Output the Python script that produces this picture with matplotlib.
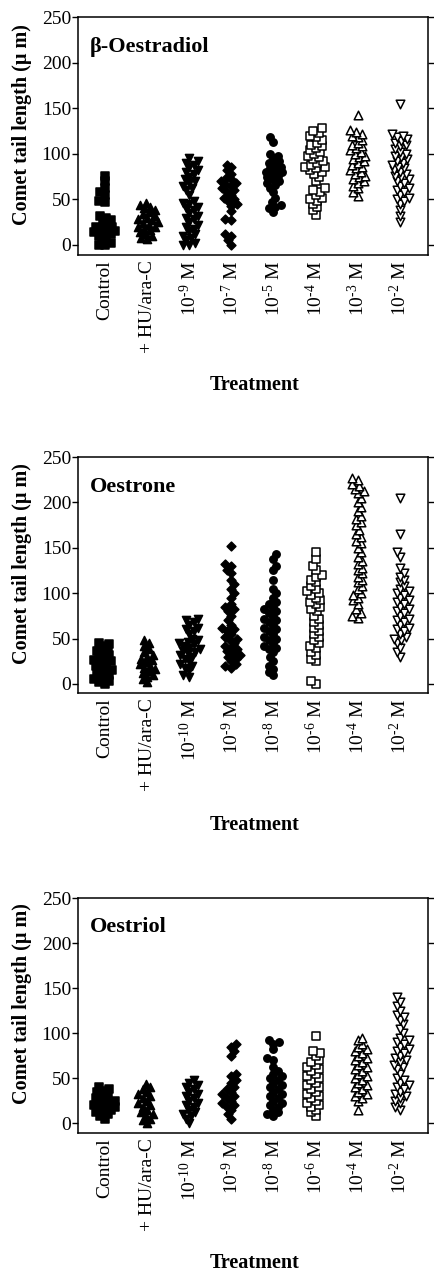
import numpy as np
import matplotlib
matplotlib.use("Agg")
import matplotlib.pyplot as plt

plt.rcParams['font.family'] = ['Liberation Serif', 'DejaVu Serif']
plt.rcParams['mathtext.fontset'] = 'custom'
plt.rcParams['mathtext.rm'] = 'Liberation Serif'
plt.rcParams['mathtext.it'] = 'Liberation Serif:italic'
plt.rcParams['mathtext.bf'] = 'Liberation Serif:bold'

# panel titles
titles = ['\u03b2-Oestradiol', 'Oestrone', 'Oestriol']

# tick labels per panel
labels_oestradiol = ['Control', '+ HU/ara-C', '10$^{\\text{-9}}$ M', '10$^{\\text{-7}}$ M',
                     '10$^{\\text{-5}}$ M', '10$^{\\text{-4}}$ M', '10$^{\\text{-3}}$ M', '10$^{\\text{-2}}$ M']
labels_oestrone = ['Control', '+ HU/ara-C', '10$^{\\text{-10}}$ M', '10$^{\\text{-9}}$ M',
                   '10$^{\\text{-8}}$ M', '10$^{\\text{-6}}$ M', '10$^{\\text{-4}}$ M', '10$^{\\text{-2}}$ M']
labels_oestriol = ['Control', '+ HU/ara-C', '10$^{\\text{-10}}$ M', '10$^{\\text{-9}}$ M',
                   '10$^{\\text{-8}}$ M', '10$^{\\text{-6}}$ M', '10$^{\\text{-4}}$ M', '10$^{\\text{-2}}$ M']

# comet tail lengths (um)
oestradiol = [
    [0, 0, 2, 5, 8, 10, 12, 13, 14, 15, 15, 16, 18, 20, 20, 22, 25, 27, 30, 32, 47, 48, 55, 58, 62, 70, 76],
    [6, 8, 10, 12, 14, 16, 18, 20, 20, 22, 24, 25, 27, 28, 30, 32, 34, 36, 38, 40, 42, 44, 46],
    [0, 0, 2, 5, 8, 10, 12, 15, 18, 20, 22, 25, 28, 30, 32, 35, 38, 40, 42, 45, 46, 48,
     55, 60, 62, 65, 68, 70, 72, 75, 78, 80, 82, 85, 88, 90, 92, 95],
    [0, 5, 10, 12, 27, 29, 37, 43, 45, 48, 50, 52, 55, 58, 60, 62, 65, 67, 68, 70, 72, 75, 78, 82, 85, 88],
    [36, 40, 42, 44, 47, 52, 58, 63, 66, 68, 70, 72, 74, 76, 78, 80, 80, 82, 84, 86, 88, 90, 92, 95, 98, 100, 113, 118],
    [33, 38, 42, 45, 48, 50, 52, 55, 58, 60, 62, 70, 75, 78, 80, 82, 84, 85, 86, 88, 90, 92, 94, 96, 98,
     100, 102, 104, 106, 108, 110, 112, 115, 118, 120, 123, 125, 128],
    [54, 58, 62, 65, 68, 70, 72, 74, 76, 78, 80, 82, 84, 86, 88, 90, 92, 94, 96, 98, 100, 102, 104, 106,
     108, 110, 112, 115, 118, 120, 122, 124, 126, 142],
    [25, 32, 38, 45, 48, 50, 52, 55, 58, 60, 62, 65, 68, 70, 72, 74, 76, 78, 80, 82, 84, 86, 88, 90, 92,
     94, 96, 98, 100, 102, 105, 108, 110, 112, 114, 116, 118, 120, 122, 155],
]
oestrone = [
    [0, 2, 3, 5, 6, 8, 10, 12, 14, 15, 16, 18, 20, 22, 24, 25, 26, 28, 30, 32, 34, 36, 38, 42, 44, 45],
    [2, 5, 8, 10, 12, 14, 16, 18, 20, 22, 24, 26, 28, 30, 32, 35, 38, 42, 45, 48],
    [8, 10, 15, 18, 20, 22, 25, 28, 30, 32, 34, 35, 36, 38, 40, 42, 44, 45, 46, 48, 50, 55, 58, 60, 62, 65, 68, 70, 72],
    [18, 20, 22, 25, 28, 30, 32, 34, 36, 38, 40, 42, 45, 48, 50, 52, 55, 58, 60, 62, 65, 70, 75, 80, 82,
     85, 88, 95, 100, 105, 110, 115, 122, 125, 130, 132, 152],
    [10, 13, 16, 20, 25, 30, 35, 38, 40, 42, 45, 48, 50, 52, 55, 58, 60, 62, 65, 68, 70, 72, 75, 78, 80,
     82, 85, 88, 90, 95, 100, 105, 115, 125, 130, 138, 143],
    [0, 3, 25, 28, 32, 35, 40, 42, 45, 48, 52, 55, 58, 62, 65, 68, 72, 75, 80, 82, 85, 88, 90, 92, 95,
     98, 100, 102, 105, 108, 112, 115, 118, 120, 125, 130, 138, 145],
    [73, 75, 78, 82, 88, 92, 95, 98, 100, 105, 108, 112, 115, 118, 122, 125, 128, 132, 135, 140, 145, 150,
     155, 158, 162, 165, 170, 175, 178, 182, 185, 190, 195, 200, 205, 210, 212, 215, 218, 220, 225, 227],
    [30, 35, 40, 45, 48, 50, 52, 55, 58, 60, 62, 65, 68, 70, 72, 75, 78, 80, 82, 85, 88, 90, 92, 95, 98,
     100, 102, 105, 108, 112, 115, 118, 122, 128, 140, 145, 165, 205],
]
oestriol = [
    [5, 8, 10, 12, 14, 15, 16, 18, 20, 20, 22, 24, 25, 26, 28, 30, 32, 34, 36, 38, 40],
    [0, 3, 5, 8, 10, 12, 15, 18, 20, 22, 25, 28, 30, 32, 35, 38, 40, 43],
    [0, 5, 8, 10, 12, 15, 18, 20, 22, 25, 28, 30, 32, 35, 38, 40, 42, 45, 48],
    [5, 10, 15, 18, 20, 22, 25, 28, 30, 32, 35, 38, 40, 45, 48, 52, 55, 75, 80, 85, 88],
    [8, 10, 12, 15, 18, 20, 22, 25, 28, 30, 32, 35, 38, 40, 42, 45, 48, 50, 52, 55, 58, 62, 70, 72, 82, 88, 90, 92],
    [8, 12, 15, 18, 20, 22, 25, 28, 30, 32, 35, 38, 40, 42, 45, 48, 50, 52, 55, 58, 60, 62, 65, 68, 70,
     75, 78, 80, 97],
    [15, 25, 28, 30, 32, 35, 38, 40, 42, 45, 48, 50, 52, 55, 58, 60, 62, 65, 68, 70, 72, 75, 78, 80, 82,
     85, 88, 92, 95],
    [15, 18, 22, 25, 28, 30, 32, 35, 38, 40, 42, 45, 48, 50, 55, 60, 62, 65, 68, 70, 72, 75, 78, 80, 82,
     85, 88, 90, 92, 95, 100, 105, 110, 115, 118, 120, 125, 130, 135, 140],
]

# marker, filled?, size
styles = [('s', True, 26), ('^', True, 34), ('v', True, 34), ('D', True, 20),
          ('o', True, 28), ('s', False, 30), ('^', False, 38), ('v', False, 38)]

# pixel geometry of the three frames (top, bottom) in a 435x1275 image
frames = [(17, 255), (457, 693), (898, 1133)]
ybottoms = [-11, -10, -11]
treat_y = [385, 825, 1263]

W, H = 435, 1275
fig = plt.figure(figsize=(W / 100, H / 100), dpi=100)


def swarm_offsets(ax, xc, vals, d=5.0, max_w=11.0, step=1.5):
    # simple beeswarm in pixel space, capped width
    tr = ax.transData
    pts = tr.transform(np.column_stack([np.full(len(vals), xc), vals]))
    ys = pts[:, 1]
    ppu = tr.transform((1, 0))[0] - tr.transform((0, 0))[0]
    order = np.argsort(ys, kind='stable')
    placed = []
    offs = np.zeros(len(vals))
    flip = 1
    n = int(max_w / step)
    for i in order:
        y = ys[i]
        cands = [0.0]
        for k in range(1, n + 1):
            cands += [flip * k * step, -flip * k * step]
        flip = -flip
        best, best_d = 0.0, -1
        for c in cands:
            md = min([np.hypot(c - px, y - py) for px, py in placed] or [99])
            if md >= d:
                best = c
                break
            if md > best_d:
                best, best_d = c, md
        placed.append((best, y))
        offs[i] = best / ppu
    return offs


panels = [oestradiol, oestrone, oestriol]
tick_sets = [labels_oestradiol, labels_oestrone, labels_oestriol]

for p in range(3):
    top, bot = frames[p]
    ax = fig.add_axes([78 / W, 1 - bot / H, 350 / W, (bot - top) / H])
    ax.set_xlim(0.36, 8.67)
    ax.set_ylim(ybottoms[p], 250)
    xs = np.arange(1, 9)
    for g, vals in enumerate(panels[p]):
        vals = np.array(vals, dtype=float)
        off = swarm_offsets(ax, xs[g], vals)
        m, filled, s = styles[g]
        ax.scatter(xs[g] + off, vals, marker=m, s=s,
                   facecolor='black' if filled else 'white',
                   edgecolor='black', linewidth=1.1, zorder=3)

    ax.set_yticks([0, 50, 100, 150, 200, 250])
    ax.set_xticks(xs)
    ax.set_xticklabels(tick_sets[p], rotation=90, fontsize=14, va='top', ha='center')
    ax.tick_params(axis='x', length=0, pad=4)
    ax.tick_params(axis='y', direction='out', length=4, width=1, labelsize=14, pad=1,
                   right=True, labelright=False)
    for sp in ax.spines.values():
        sp.set_linewidth(1.1)

    ax.text(0.035, 0.875, titles[p], transform=ax.transAxes, fontsize=16,
            fontweight='bold', ha='left', va='center')
    ax.text(-0.16, 0.55, 'Comet tail length (\u03bc m)', transform=ax.transAxes,
            rotation=90, fontsize=14.5, fontweight='bold', ha='center', va='center')
    fig.text(255 / W, 1 - treat_y[p] / H, 'Treatment', fontsize=14.5,
             fontweight='bold', ha='center', va='center')

plt.savefig('out.png', dpi=100)
